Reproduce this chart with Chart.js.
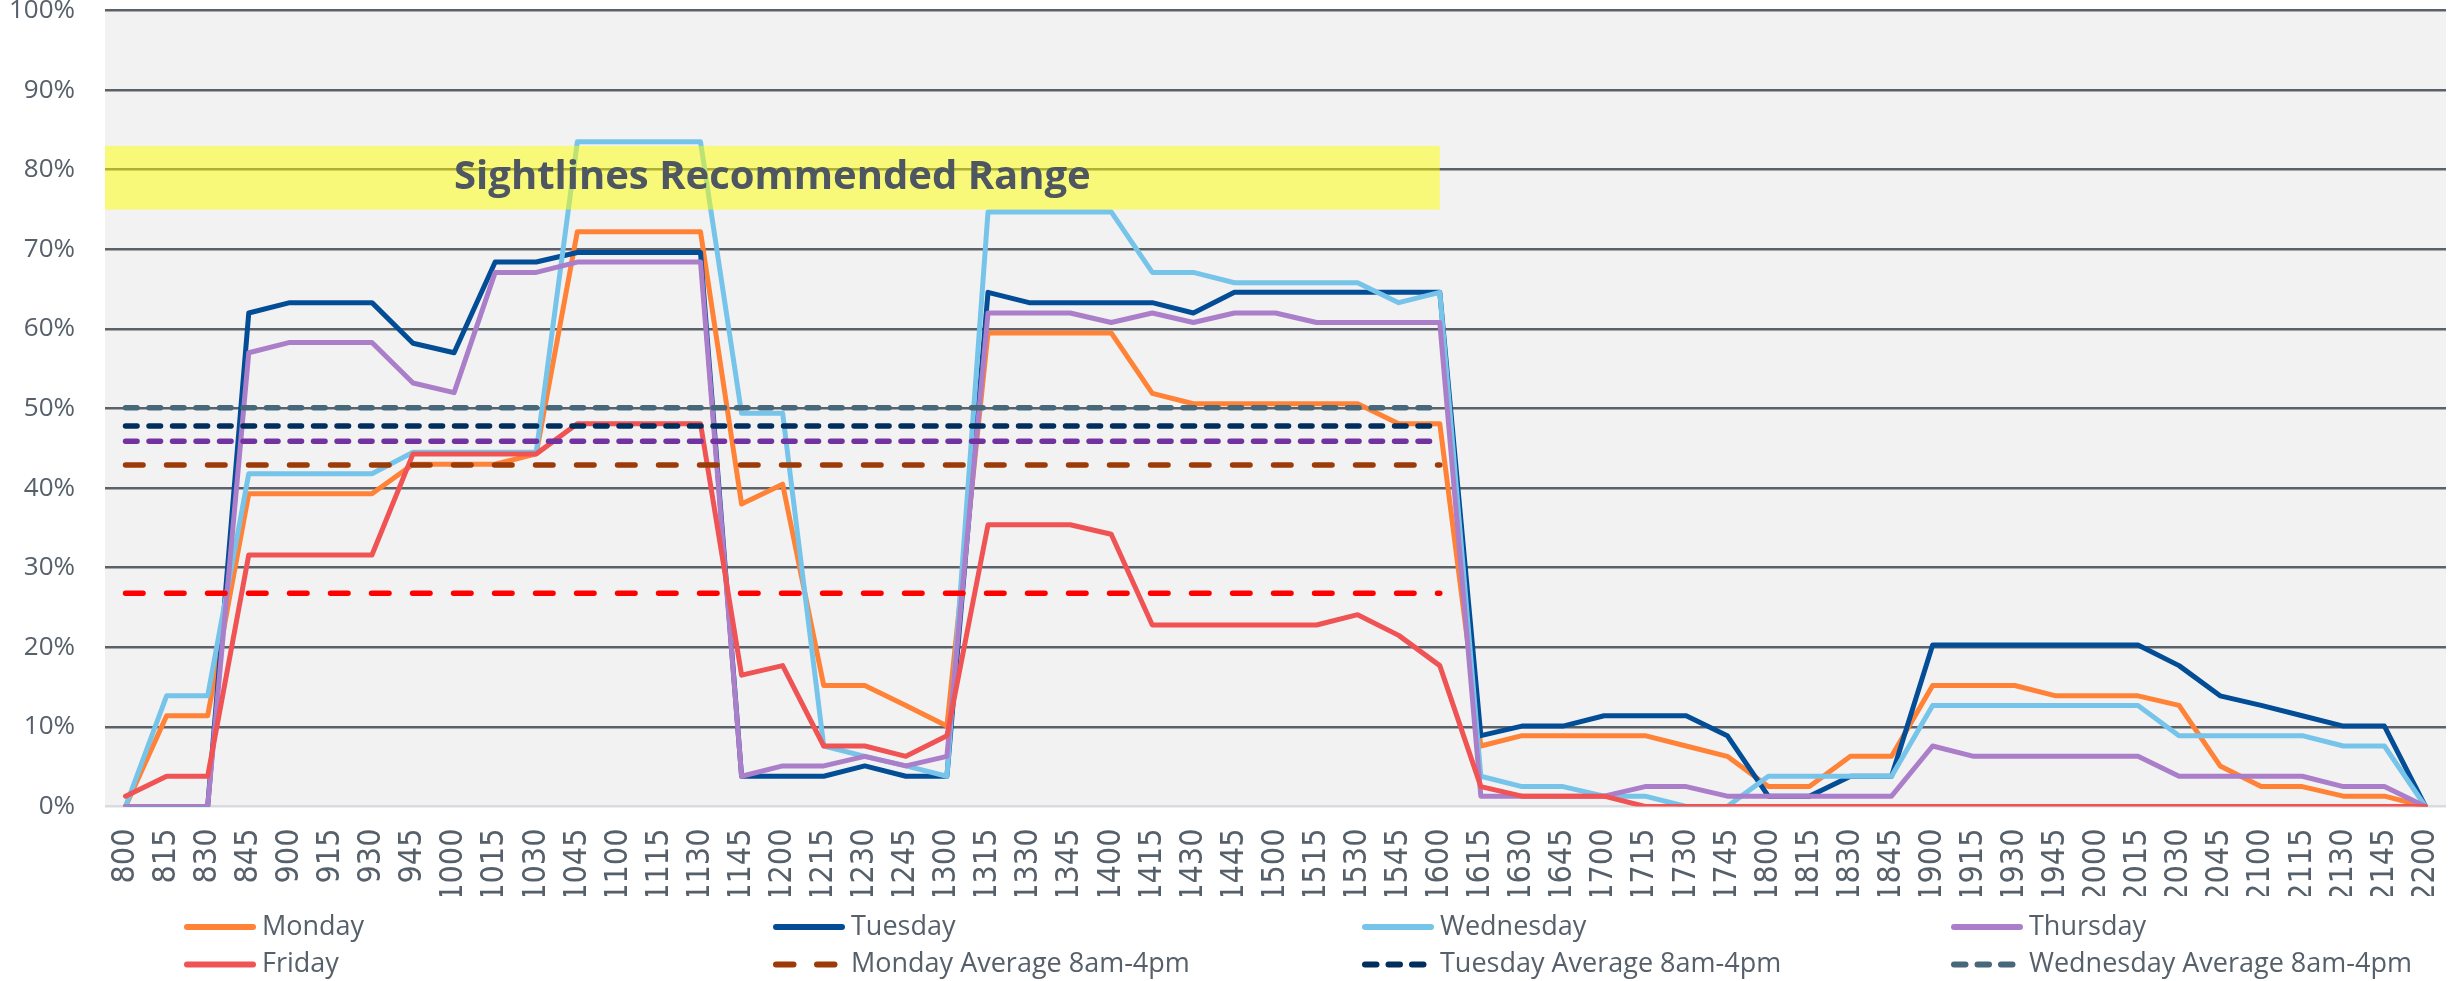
<!DOCTYPE html>
<html lang="en">
<head>
    <meta charset="UTF-8">
    <title>Occupancy by time of day</title>
    <script src="https://cdn.jsdelivr.net/npm/chart.js"></script>
    <style>
        html, body {
            margin: 0;
            padding: 0;
            background: #ffffff;
        }
        #chart {
            display: block;
        }
    </style>
</head>
<body>
    <canvas id="chart" width="2448" height="981"></canvas>

    <script>
        // time slots (15 min)
        const times = ['800', '815', '830', '845', '900', '915', '930', '945', '1000', '1015', '1030', '1045',
            '1100', '1115', '1130', '1145', '1200', '1215', '1230', '1245', '1300', '1315', '1330', '1345',
            '1400', '1415', '1430', '1445', '1500', '1515', '1530', '1545', '1600', '1615', '1630', '1645',
            '1700', '1715', '1730', '1745', '1800', '1815', '1830', '1845', '1900', '1915', '1930', '1945',
            '2000', '2015', '2030', '2045', '2100', '2115', '2130', '2145', '2200'];

        // utilisation in %
        const monday = [0, 11.4, 11.4, 39.3, 39.3, 39.3, 39.3, 43.0, 43.0, 43.0, 44.3, 72.2,
            72.2, 72.2, 72.2, 38.0, 40.5, 15.2, 15.2, 12.7, 10.1, 59.5, 59.5, 59.5,
            59.5, 51.9, 50.6, 50.6, 50.6, 50.6, 50.6, 48.1, 48.1, 7.6, 8.9, 8.9,
            8.9, 8.9, 7.6, 6.3, 2.5, 2.5, 6.3, 6.3, 15.2, 15.2, 15.2, 13.9,
            13.9, 13.9, 12.7, 5.1, 2.5, 2.5, 1.3, 1.3, 0];
        const tuesday = [0, 0, 0, 62.0, 63.3, 63.3, 63.3, 58.2, 57.0, 68.4, 68.4, 69.6,
            69.6, 69.6, 69.6, 3.8, 3.8, 3.8, 5.1, 3.8, 3.8, 64.6, 63.3, 63.3,
            63.3, 63.3, 62.0, 64.6, 64.6, 64.6, 64.6, 64.6, 64.6, 8.9, 10.1, 10.1,
            11.4, 11.4, 11.4, 8.9, 1.3, 1.3, 3.8, 3.8, 20.3, 20.3, 20.3, 20.3,
            20.3, 20.3, 17.7, 13.9, 12.7, 11.4, 10.1, 10.1, 0];
        const wednesday = [0, 13.9, 13.9, 41.8, 41.8, 41.8, 41.8, 44.5, 44.5, 44.5, 44.5, 83.5,
            83.5, 83.5, 83.5, 49.4, 49.4, 7.6, 6.3, 5.1, 3.8, 74.7, 74.7, 74.7,
            74.7, 67.1, 67.1, 65.8, 65.8, 65.8, 65.8, 63.3, 64.6, 3.8, 2.5, 2.5,
            1.3, 1.3, 0, 0, 3.8, 3.8, 3.8, 3.8, 12.7, 12.7, 12.7, 12.7,
            12.7, 12.7, 8.9, 8.9, 8.9, 8.9, 7.6, 7.6, 0];
        const thursday = [0, 0, 0, 57.0, 58.3, 58.3, 58.3, 53.2, 52.0, 67.1, 67.1, 68.4,
            68.4, 68.4, 68.4, 3.8, 5.1, 5.1, 6.3, 5.1, 6.3, 62.0, 62.0, 62.0,
            60.8, 62.0, 60.8, 62.0, 62.0, 60.8, 60.8, 60.8, 60.8, 1.3, 1.3, 1.3,
            1.3, 2.5, 2.5, 1.3, 1.3, 1.3, 1.3, 1.3, 7.6, 6.3, 6.3, 6.3,
            6.3, 6.3, 3.8, 3.8, 3.8, 3.8, 2.5, 2.5, 0];
        const friday = [1.3, 3.8, 3.8, 31.6, 31.6, 31.6, 31.6, 44.3, 44.3, 44.3, 44.3, 48.1,
            48.1, 48.1, 48.1, 16.5, 17.7, 7.6, 7.6, 6.3, 8.9, 35.4, 35.4, 35.4,
            34.2, 22.8, 22.8, 22.8, 22.8, 22.8, 24.1, 21.5, 17.7, 2.5, 1.3, 1.3,
            1.3, 0, 0, 0, 0, 0, 0, 0, 0, 0, 0, 0,
            0, 0, 0, 0, 0, 0, 0, 0, 0];

        // 8am-4pm averages
        const mondayAvg = 42.9;
        const tuesdayAvg = 47.8;
        const wednesdayAvg = 50.1;
        const thursdayAvg = 45.9;
        const fridayAvg = 26.8;
        const avgFrom = '800';
        const avgTo = '1600';

        // recommended range band
        const rangeLow = 75;
        const rangeHigh = 83;
        const rangeEnd = '1600';
        const rangeLabel = 'Sightlines Recommended Range';

        const textColor = '#56606b';
        const dotted = [11.5, 12];
        const dashed = [17.5, 23.5];
        const clear = 'rgba(0, 0, 0, 0)';

        function dayLine(label, data, color) {
            return {
                label: label,
                data: data,
                borderColor: color,
                backgroundColor: color,
                borderWidth: 5,
                borderJoinStyle: 'round',
                borderCapStyle: 'round',
                pointRadius: 0,
                tension: 0
            };
        }

        function avgLine(label, value, color, dash, inLegend) {
            return {
                label: label,
                data: [{ x: avgFrom, y: value }, { x: avgTo, y: value }],
                borderColor: color,
                backgroundColor: color,
                borderWidth: 5.5,
                borderDash: dash,
                borderCapStyle: 'round',
                pointRadius: 0,
                inLegend: inLegend
            };
        }

        const datasets = [
            dayLine('Monday', monday, '#ff8237'),
            dayLine('Tuesday', tuesday, '#034d97'),
            dayLine('Wednesday', wednesday, '#77c4ea'),
            dayLine('Thursday', thursday, '#ab7ec9'),
            dayLine('Friday', friday, '#f05353'),
            avgLine('Monday Average 8am-4pm', mondayAvg, '#9c3a08', dashed, true),
            avgLine('Tuesday Average 8am-4pm', tuesdayAvg, '#012e5d', dotted, true),
            avgLine('Wednesday Average 8am-4pm', wednesdayAvg, '#46687a', dotted, true),
            avgLine('Thursday Average 8am-4pm', thursdayAvg, '#7232a0', dotted, false),
            avgLine('Friday Average 8am-4pm', fridayAvg, '#ff0000', dashed, false)
        ];
        // first series at the bottom, like the spreadsheet
        datasets.forEach((ds, i) => { ds.order = datasets.length - i; });

        const plotBackground = {
            id: 'plotBackground',
            beforeDraw(chart) {
                const { ctx, chartArea } = chart;
                ctx.save();
                ctx.fillStyle = '#f2f2f2';
                ctx.fillRect(chartArea.left, chartArea.top, chartArea.right - chartArea.left, chartArea.bottom - chartArea.top);
                ctx.restore();
            }
        };

        const rangeBand = {
            id: 'rangeBand',
            afterDatasetsDraw(chart) {
                const { ctx, chartArea, scales } = chart;
                const left = chartArea.left;
                const right = scales.x.getPixelForValue(times.indexOf(rangeEnd));
                const top = scales.y.getPixelForValue(rangeHigh);
                const bottom = scales.y.getPixelForValue(rangeLow);
                ctx.save();
                ctx.fillStyle = 'rgba(255, 255, 0, 0.5)';
                ctx.fillRect(left, top, right - left, bottom - top);
                ctx.fillStyle = '#4d5661';
                ctx.font = 'bold 40px "Open Sans", sans-serif';
                ctx.textAlign = 'center';
                ctx.textBaseline = 'middle';
                ctx.fillText(rangeLabel, (left + right) / 2, (top + bottom) / 2);
                ctx.restore();
            }
        };

        // legend laid out in 4 fixed columns under the axis
        const bottomLegend = {
            id: 'bottomLegend',
            afterDraw(chart, args, opts) {
                const ctx = chart.ctx;
                const items = chart.data.datasets.filter(ds => ds.inLegend !== false);
                items.forEach((ds, k) => {
                    const x = opts.left + (k % 4) * opts.colWidth;
                    const y = opts.top + Math.floor(k / 4) * opts.rowHeight;
                    ctx.save();
                    ctx.strokeStyle = ds.borderColor;
                    ctx.lineWidth = 6;
                    ctx.lineCap = 'round';
                    ctx.setLineDash(ds.borderDash || []);
                    ctx.beginPath();
                    ctx.moveTo(x + 3, y);
                    ctx.lineTo(x + 69, y);
                    ctx.stroke();
                    ctx.setLineDash([]);
                    ctx.fillStyle = textColor;
                    ctx.font = '27px "Open Sans", sans-serif';
                    ctx.textBaseline = 'middle';
                    ctx.fillText(ds.label, x + 78, y);
                    ctx.restore();
                });
            }
        };

        new Chart(document.getElementById('chart').getContext('2d'), {
            type: 'line',
            data: {
                labels: times,
                datasets: datasets
            },
            options: {
                responsive: false,
                animation: false,
                layout: { padding: { top: 0, right: 2, bottom: 85, left: 0 } },
                plugins: {
                    legend: { display: false },
                    tooltip: { enabled: false },
                    bottomLegend: { left: 184, top: 927, colWidth: 589, rowHeight: 37.5 }
                },
                scales: {
                    x: {
                        type: 'category',
                        offset: true,
                        grid: {
                            drawOnChartArea: false,
                            drawTicks: true,
                            tickLength: 22,
                            color: clear,
                            tickColor: clear
                        },
                        border: { display: false },
                        ticks: {
                            autoSkip: false,
                            minRotation: 90,
                            maxRotation: 90,
                            padding: 0,
                            color: textColor,
                            font: { family: "'Liberation Sans Narrow', 'Arial Narrow', 'DejaVu Sans Condensed', sans-serif", size: 32, lineHeight: 0.6 }
                        },
                        afterFit: (scale) => { scale.height = 89.5; }
                    },
                    y: {
                        min: 0,
                        max: 100,
                        grid: {
                            color: (c) => c.tick.value === 0 ? '#d8dce0' : '#5b6169',
                            lineWidth: 2.5,
                            drawTicks: true,
                            tickLength: 30,
                            tickColor: clear
                        },
                        border: { display: false },
                        ticks: {
                            stepSize: 10,
                            padding: 0,
                            color: textColor,
                            font: { family: "'Open Sans', sans-serif", size: 26, lineHeight: 0.81 },
                            callback: (v) => v + '%'
                        },
                        afterFit: (scale) => { scale.width = 105; }
                    }
                }
            },
            plugins: [plotBackground, rangeBand, bottomLegend]
        });
    </script>
</body>
</html>
